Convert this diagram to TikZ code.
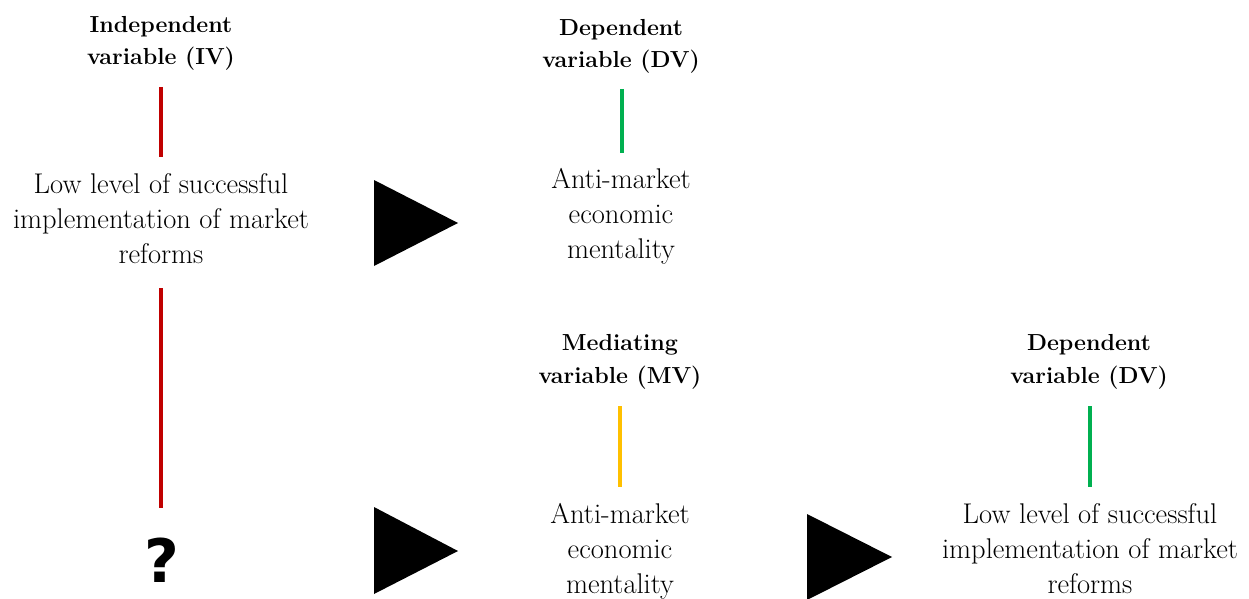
\documentclass[tikz,border=0pt]{standalone}
\usepackage{fontspec}
\newfontfamily\qfont{DejaVu Sans}
\definecolor{ivred}{HTML}{C00000}
\definecolor{dvgreen}{HTML}{00B050}
\definecolor{mvyellow}{HTML}{FFC000}
\tikzset{
  title/.style={anchor=base, align=center, inner sep=0pt, font=\fontsize{23.2}{32.5}\selectfont\bfseries},
  body/.style={anchor=base, align=center, inner sep=0pt, font=\fontsize{28.5}{34.8}\selectfont},
  bar/.style={line width=3.5pt},
  arrowtri/.style={fill=black}
}
\begin{document}
\begin{tikzpicture}[x=1pt,y=-1pt]
\useasboundingbox (0,0) rectangle (1249,599);
% titles (anchor = baseline of last line)
\node[title] (ivt) at (161,65) {Independent\\variable (IV)};
\node[title] (dvt1) at (621,68) {Dependent\\variable (DV)};
\node[title] (mvt) at (620,383) {Mediating\\variable (MV)};
\node[title] (dvt2) at (1089,383) {Dependent\\variable (DV)};
% bodies
\node[body] (ivb) at (161,263) {Low level of successful\\implementation of market\\reforms};
\node[body] (dvb1) at (621,258) {Anti-market\\economic\\mentality};
\node[body] (mvb) at (620,593) {Anti-market\\economic\\mentality};
\node[body] (dvb2) at (1090,593) {Low level of successful\\implementation of market\\reforms};
\node[anchor=center, inner sep=0pt, font=\qfont\bfseries\fontsize{60}{60}\selectfont] (q) at (162,560) {?};
% bar ends
\coordinate (r1a) at (161,87); \coordinate (r1b) at (161,157);
\coordinate (r2a) at (161,288); \coordinate (r2b) at (161,508);
\coordinate (g1a) at (622,89); \coordinate (g1b) at (622,153);
\coordinate (ya) at (620,406); \coordinate (yb) at (620,487);
\coordinate (g2a) at (1090,406); \coordinate (g2b) at (1090,487);
\draw[bar, ivred] (r1a) -- (r1b);
\draw[bar, ivred] (r2a) -- (r2b);
\draw[bar, dvgreen] (g1a) -- (g1b);
\draw[bar, mvyellow] (ya) -- (yb);
\draw[bar, dvgreen] (g2a) -- (g2b);
% triangles
\fill[arrowtri] (374,180) -- (458,223) -- (374,266) -- cycle;
\fill[arrowtri] (374,507) -- (458,551) -- (374,594) -- cycle;
\fill[arrowtri] (807,514) -- (892,557) -- (807,600) -- cycle;
\end{tikzpicture}
\end{document}
